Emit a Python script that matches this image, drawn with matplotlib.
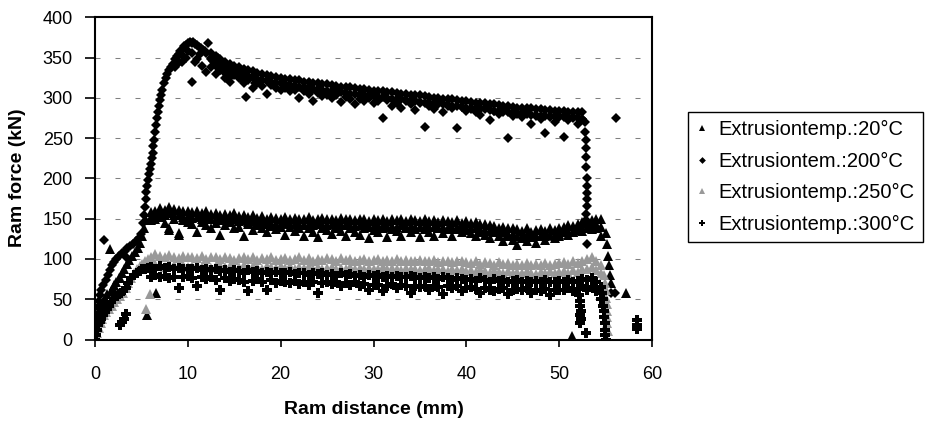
import matplotlib
matplotlib.use("Agg")
import matplotlib.pyplot as plt
import numpy as np

plt.rcParams['font.family'] = ['Liberation Sans', 'DejaVu Sans']

# ---------------- data ----------------
series_labels = ["Extrusiontemp.:20°C", "Extrusiontem.:200°C",
                 "Extrusiontemp.:250°C", "Extrusiontemp.:300°C"]

x_ticks = [0, 10, 20, 30, 40, 50, 60]
y_ticks = [0, 50, 100, 150, 200, 250, 300, 350, 400]

# common sampling positions of the steady-state band (mm)
band_x = [6.0, 6.5, 7.0, 7.5, 8.0, 8.5, 9.0, 9.5, 10.0, 10.5, 11.0, 11.5, 12.0, 12.5,
          13.0, 13.5, 14.0, 14.5, 15.0, 15.5, 16.0, 16.5, 17.0, 17.5, 18.0, 18.5, 19.0,
          19.5, 20.0, 20.5, 21.0, 21.5, 22.0, 22.5, 23.0, 23.5, 24.0, 24.5, 25.0, 25.5,
          26.0, 26.5, 27.0, 27.5, 28.0, 28.5, 29.0, 29.5, 30.0, 30.5, 31.0, 31.5, 32.0,
          32.5, 33.0, 33.5, 34.0, 34.5, 35.0, 35.5, 36.0, 36.5, 37.0, 37.5, 38.0, 38.5,
          39.0, 39.5, 40.0, 40.5, 41.0, 41.5, 42.0, 42.5, 43.0, 43.5, 44.0, 44.5, 45.0,
          45.5, 46.0, 46.5, 47.0, 47.5, 48.0, 48.5, 49.0, 49.5, 50.0, 50.5, 51.0, 51.5,
          52.0, 52.5, 53.0, 53.5, 54.0, 54.5]

# ---- 20 °C (black triangles)
t20_hi = [158, 160, 163, 161, 164, 162, 161, 159, 160,
          158, 159, 157, 160, 156, 157, 155, 156, 154, 157,
          153, 155, 152, 154, 151, 153, 150, 152, 151, 150,
          152, 149, 151, 150, 149, 152, 148, 150, 151, 149,
          150, 148, 151, 149, 150, 148, 149, 150, 147, 149,
          148, 150, 147, 149, 148, 150, 147, 149, 148, 147,
          149, 147, 148, 146, 148, 147, 146, 148, 145, 147,
          145, 146, 144, 143, 142, 141, 139, 140, 138, 139,
          137, 135, 138, 134, 136, 137, 135, 138, 136, 139,
          140, 142, 141, 144, 146, 145, 148, 150, 149]
t20_mid = [152, 154, 156, 154, 157, 155, 154, 152, 153,
           151, 152, 150, 152, 149, 150, 148, 149, 147, 149,
           147, 148, 146, 147, 145, 146, 144, 145, 144, 144,
           145, 143, 144, 143, 142, 144, 142, 143, 143, 142,
           143, 141, 143, 142, 142, 141, 142, 142, 140, 141,
           141, 142, 140, 141, 140, 142, 140, 141, 140, 140,
           141, 140, 140, 139, 140, 139, 139, 140, 138, 139,
           138, 138, 137, 136, 135, 134, 133, 133, 131, 131,
           129, 128, 130, 127, 128, 129, 128, 130, 129, 131,
           133, 135, 134, 137, 139, 139, 141, 143, 140]
t20_lo = [148, 150, 152, 145, 138, 150, 132, 148, 146,
          144, 134, 146, 142, 138, 145, 130, 142, 146, 138,
          140, 128, 143, 136, 142, 139, 134, 141, 137, 140,
          130, 140, 135, 139, 129, 138, 134, 127, 139, 136,
          131, 139, 135, 128, 139, 134, 130, 138, 126, 136,
          133, 139, 127, 137, 135, 129, 138, 133, 137, 127,
          137, 134, 129, 139, 132, 137, 129, 137, 133, 136,
          132, 128, 134, 130, 126, 133, 128, 122, 129, 124,
          117, 126, 122, 128, 120, 128, 124, 130, 126, 128,
          133, 130, 134, 136, 135, 138, 137, 139, 128]
t20_extra_x = [0.0, 0.1, 0.2, 0.3, 0.5, 0.7, 0.9, 1.1, 1.3, 1.6, 1.7, 1.9, 2.1, 2.3, 2.6,
               2.7, 2.9, 3.1, 3.4, 3.7, 4.0, 4.3, 4.6, 4.9, 5.1, 5.3, 5.5, 5.6, 6.6, 8.0,
               9.1, 55.0, 55.2, 55.3, 55.4, 55.5, 55.6, 57.2, 51.4]
t20_extra_y = [2, 8, 16, 24, 32, 40, 47, 52, 56, 112, 60, 64, 68, 72, 76,
               76, 82, 88, 94, 99, 104, 109, 114, 120, 128, 138, 148, 30, 58, 136,
               130, 132, 118, 104, 92, 80, 70, 58, 4]

# ---- 200 °C (black diamonds)
d200_hi = [356, 352, 348, 344, 342, 340,
           338, 336, 335, 333, 331, 330, 328, 327, 326, 325,
           324, 323, 322, 322, 320, 320, 319, 318, 317, 317,
           316, 315, 314, 314, 313, 312, 311, 311, 310, 309,
           309, 308, 307, 307, 306, 305, 305, 304, 303, 303,
           302, 301, 300, 300, 299, 298, 298, 297, 296, 296,
           295, 294, 294, 293, 292, 292, 291, 290, 290, 289,
           288, 288, 287, 287, 286, 286, 285, 285, 284, 284,
           284, 283, 283, 282, 282]
d200_mid = [348, 344, 340, 338, 334, 333,
            331, 329, 327, 326, 324, 322, 321, 320, 318, 318,
            317, 316, 315, 314, 313, 312, 311, 311, 310, 309,
            308, 308, 307, 306, 305, 305, 304, 303, 303, 302,
            301, 301, 300, 299, 298, 298, 297, 296, 296, 295,
            294, 294, 293, 292, 292, 291, 290, 290, 289, 288,
            288, 287, 286, 286, 285, 284, 284, 283, 282, 282,
            281, 281, 280, 279, 279, 278, 278, 277, 277, 276,
            276, 276, 275, 275, 274]
d200_lo = [338, 330, 335, 325, 320, 328,
           325, 318, 322, 312, 318, 315, 305, 316, 312, 310,
           312, 308, 310, 300, 309, 305, 296, 306, 302, 304,
           300, 303, 295, 301, 298, 292, 299, 296, 300, 293,
           296, 275, 297, 290, 294, 288, 296, 292, 285, 294,
           264, 290, 286, 293, 282, 290, 287, 262, 289, 284,
           286, 282, 279, 288, 272, 284, 280, 286, 250, 278,
           280, 276, 283, 268, 278, 274, 256, 276, 270, 278,
           252, 272, 276, 268, 274]
d200_extra_x = [0.0, 0.1, 0.2, 0.3, 0.4, 0.5, 0.7, 0.9, 1.0, 1.2, 1.4, 1.6, 1.8, 2.0, 2.3,
                2.6, 2.9, 3.2, 3.3, 3.5, 3.8, 4.1, 4.4, 4.7, 5.0,
                5.2, 5.3, 5.4, 5.45, 5.5, 5.6, 5.7, 5.8, 5.9, 6.0, 6.1, 6.2, 6.3, 6.4, 6.5,
                6.6, 6.7, 6.8, 6.9, 7.0, 7.1, 7.2, 7.4, 7.6, 7.8, 8.0, 8.2, 8.4, 8.6, 8.8,
                9.0, 9.2, 9.4, 9.6, 9.8, 10.0, 10.2, 10.4, 10.6, 10.8, 11.0, 11.2, 11.4,
                11.6, 11.8, 12.0,
                8.9, 9.1, 9.4, 10.4, 10.8, 12.0, 12.2, 12.5, 11.5, 11.0,
                9.5, 10.0, 10.5, 11.3, 12.7, 13.0, 13.5, 14.0, 14.5, 13.2, 14.2, 15.0,
                8.6, 9.8, 15.8, 16.3, 17.2,
                52.8, 52.8, 52.9, 52.9, 52.9, 52.9, 53.0, 53.0, 53.0, 53.0, 53.0, 52.9,
                52.9, 53.0, 56.1, 55.6, 56.0]
d200_extra_y = [10, 20, 30, 40, 48, 55, 62, 68, 123, 74, 80, 86, 92, 96, 100,
                104, 107, 110, 103, 113, 116, 119, 122, 126, 131,
                145, 155, 165, 175, 183, 190, 198, 205, 212, 218, 225, 232, 240, 248, 258,
                266, 275, 283, 290, 297, 304, 310, 318, 325, 330, 335, 338, 342, 348, 352,
                355, 358, 360, 364, 366, 368, 369, 368, 369, 367, 366, 363, 362,
                360, 358, 356,
                343, 344, 345, 320, 345, 332, 368, 350, 340, 348,
                352, 358, 356, 354, 346, 340, 334, 331, 326, 350, 338, 332,
                338, 350, 322, 301, 318,
                270, 258, 248, 238, 226, 214, 200, 190, 182, 174, 166, 156,
                148, 118, 275, 58, 58]

# ---- 250 °C (grey triangles)
g250_hi = [103, 106, 104, 102, 105, 103, 101, 104, 102,
           103, 101, 104, 100, 102, 103, 100, 102, 101, 99,
           101, 103, 100, 102, 99, 101, 100, 102, 99, 100,
           101, 99, 100, 102, 99, 101, 98, 100, 99, 101,
           100, 98, 101, 99, 100, 98, 99, 100, 98, 99,
           100, 98, 99, 97, 100, 98, 99, 97, 98, 99,
           98, 97, 99, 96, 98, 97, 96, 98, 97, 96,
           95, 97, 94, 96, 95, 93, 96, 94, 95, 93,
           94, 92, 95, 93, 94, 92, 95, 93, 94, 95,
           96, 94, 97, 95, 98, 100, 103, 98, 92]
g250_lo = [92, 94, 93, 90, 92, 93, 91, 92, 90,
           91, 93, 90, 92, 89, 91, 92, 90, 91, 89,
           90, 92, 89, 91, 90, 88, 91, 90, 89, 91,
           89, 91, 88, 90, 89, 91, 88, 90, 87, 89,
           90, 88, 89, 87, 90, 88, 89, 87, 89, 88,
           88, 90, 87, 89, 88, 86, 89, 87, 88, 86,
           87, 89, 86, 88, 87, 85, 88, 86, 87, 85,
           86, 84, 87, 85, 83, 86, 84, 82, 85, 83,
           84, 82, 85, 83, 81, 84, 82, 85, 83, 84,
           85, 83, 86, 84, 87, 88, 90, 86, 82]
g250_extra_x = [0.0, 0.1, 0.2, 0.4, 0.6, 0.8, 1.0, 1.2, 1.5, 1.8, 2.1, 2.4, 2.7, 3.0, 3.3,
                3.6, 3.9, 4.2, 4.5, 4.8, 5.1, 5.4, 5.7, 5.5, 5.9,
                54.8, 54.9, 55.0, 55.0, 55.1, 55.1, 55.2, 55.2, 55.3, 55.0]
g250_extra_y = [0, 4, 8, 14, 20, 25, 30, 34, 38, 42, 46, 50, 54, 58, 64,
                70, 76, 82, 87, 91, 94, 97, 100, 38, 57,
                80, 70, 62, 52, 44, 36, 28, 20, 10, 3]

# ---- 300 °C (black plus)
p300_hi = [90, 88, 91, 89, 90, 88, 89, 87, 88,
           87, 89, 86, 88, 86, 87, 85, 86, 84, 86,
           85, 83, 86, 84, 85, 83, 84, 82, 84, 83,
           82, 84, 81, 83, 82, 80, 83, 81, 82, 80,
           81, 79, 82, 80, 81, 79, 80, 78, 80, 79,
           80, 78, 79, 77, 79, 78, 77, 79, 78, 76,
           78, 76, 77, 75, 77, 76, 74, 76, 75, 74,
           75, 73, 76, 74, 72, 75, 73, 74, 72, 73,
           74, 72, 73, 71, 73, 72, 74, 71, 72, 73,
           72, 74, 71, 73, 75, 74, 76, 72, 65]
p300_lo = [78, 80, 77, 79, 76, 78, 64, 77, 79,
           76, 66, 78, 75, 77, 74, 62, 76, 73, 75,
           74, 71, 60, 73, 75, 72, 62, 74, 70, 73,
           72, 70, 73, 69, 71, 68, 72, 58, 70, 71,
           69, 71, 66, 70, 68, 71, 67, 69, 62, 68,
           68, 60, 67, 69, 64, 68, 66, 58, 67, 65,
           66, 62, 67, 65, 57, 66, 64, 66, 60, 64,
           65, 63, 58, 64, 62, 60, 63, 64, 56, 62,
           63, 61, 64, 58, 62, 60, 63, 55, 61, 62,
           62, 64, 60, 63, 66, 62, 65, 60, 50]
p300_extra_x = [0.0, 0.1, 0.2, 0.3, 0.5, 0.7, 0.9, 1.1, 1.3, 1.5, 1.7, 2.0, 2.3, 2.6, 2.8,
                3.0, 3.3, 3.6, 3.9, 4.2, 4.5, 4.8, 5.1, 5.4, 5.7, 2.7, 2.9, 3.1, 3.3,
                54.6, 54.7, 54.7, 54.8, 54.8, 54.9, 54.9, 54.9, 55.0,
                52.1, 52.2, 52.2, 52.3, 52.2, 52.3, 52.2, 52.9, 58.4, 58.4, 58.4]
p300_extra_y = [0, 6, 12, 18, 22, 26, 30, 34, 38, 42, 46, 50, 54, 56, 58,
                60, 64, 70, 76, 80, 83, 85, 87, 88, 89, 18, 22, 26, 32,
                58, 50, 42, 35, 28, 20, 12, 5, 0,
                55, 48, 42, 36, 30, 25, 20, 8, 24, 18, 13]

# ---------------- figure ----------------
fig = plt.figure(figsize=(9.3, 4.21), dpi=100)
ax = fig.add_axes([95 / 930, 81.5 / 421, (652 - 95) / 930, (339.5 - 17.3) / 421])

d_band_x = band_x[13:94]

def pts(bx, rows, ex, ey):
    xs, ys = [], []
    for r in rows:
        xs += list(bx)
        ys += list(r)
    return xs + list(ex), ys + list(ey)

x1, y1 = pts(band_x, [t20_hi, t20_mid, t20_lo], t20_extra_x, t20_extra_y)
x2, y2 = pts(d_band_x, [d200_hi, d200_mid, d200_lo], d200_extra_x, d200_extra_y)
x3, y3 = pts(band_x, [g250_hi, g250_lo], g250_extra_x, g250_extra_y)
x4, y4 = pts(band_x, [p300_hi, p300_lo], p300_extra_x, p300_extra_y)

ax.plot(x1, y1, ls='none', marker='^', ms=7.2, color='black', mew=0, label=series_labels[0])
ax.plot(x2, y2, ls='none', marker='D', ms=5.3, color='black', mew=0, label=series_labels[1])
ax.plot(x3, y3, ls='none', marker='^', ms=7.2, color='#999999', mew=0, label=series_labels[2])
ax.plot(x4, y4, ls='none', marker='P', ms=7.2, color='black', mew=0, label=series_labels[3])

ax.set_xlim(0, 60)
ax.set_ylim(0, 400)
ax.set_xticks(x_ticks)
ax.set_yticks(y_ticks)
ax.set_xticklabels([str(v) for v in x_ticks])
ax.set_yticklabels([str(v) for v in y_ticks])

for yv in y_ticks[1:-1]:
    ax.axhline(yv, color='#808080', lw=0.75, dashes=(4.8, 14.4), zorder=0.5)

for s in ax.spines.values():
    s.set_linewidth(1.5)
    s.set_color('black')

ax.tick_params(axis='x', direction='out', length=5, width=1.2, pad=14, labelsize=13)
ax.tick_params(axis='y', direction='out', length=7, width=1.2, pad=9, labelsize=13)

fig.text(374 / 930, 1 - 409 / 421, "Ram distance (mm)", ha='center', va='center',
         fontsize=14, fontweight='bold')
fig.text(18 / 930, 1 - 178 / 421, "Ram force (kN)", ha='center', va='center',
         rotation=90, fontsize=14, fontweight='bold')

leg = fig.legend(loc='upper left', bbox_to_anchor=(688 / 930, 1 - 112 / 421),
                 bbox_transform=fig.transFigure, fontsize=14.5, frameon=True,
                 fancybox=False, edgecolor='black', framealpha=1,
                 markerscale=0.65, handlelength=0.6, handletextpad=0.5,
                 labelspacing=0.62, borderpad=0.4, borderaxespad=0)
leg.get_frame().set_linewidth(1.0)

fig.savefig("out.png", dpi=100)
